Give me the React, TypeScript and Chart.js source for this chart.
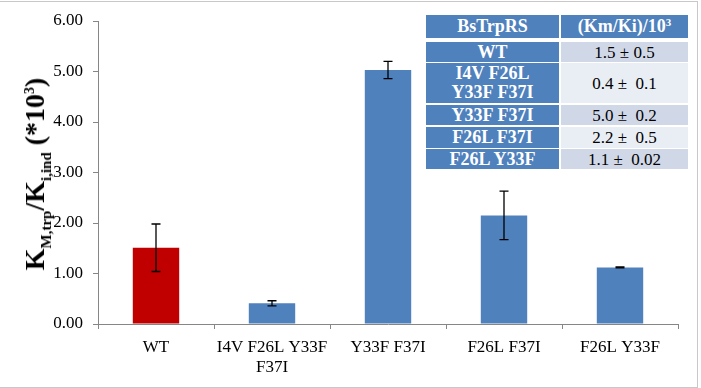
import React, { useEffect, useRef } from "react";
import { Chart, registerables } from "chart.js";

Chart.register(...registerables);

const categories: string[][] = [["WT"], ["I4V F26L Y33F", "F37I"], ["Y33F F37I"], ["F26L F37I"], ["F26L Y33F"]];
const values: number[] = [1.51, 0.41, 5.03, 2.15, 1.12];
const errors: number[] = [0.47, 0.05, 0.17, 0.48, 0.01];
const barColors: string[] = ["#C00000", "#4F81BD", "#4F81BD", "#4F81BD", "#4F81BD"];
const yTickValues: number[] = [0, 1, 2, 3, 4, 5, 6];

const tableHeaderLeft = "BsTrpRS";
const tableHeaderRight = "(Km/Ki)/10";
const tableHeaderSup = "3";
const tableVariants: string[][] = [["WT"], ["I4V F26L", "Y33F F37I"], ["Y33F F37I"], ["F26L F37I"], ["F26L Y33F"]];
const tableValues: string[] = ["1.5 ± 0.5", "0.4 ±  0.1", "5.0 ±  0.2", "2.2 ±  0.5", "1.1 ±  0.02"];

const SERIF = "Liberation Serif, Tinos, DejaVu Serif, serif";

const errorBarPlugin = {
  id: "errorBars",
  afterDatasetsDraw(chart: any) {
    const ctx = chart.ctx;
    const meta = chart.getDatasetMeta(0);
    const y = chart.scales.y;
    ctx.save();
    ctx.strokeStyle = "#000000";
    ctx.lineWidth = 1.3;
    meta.data.forEach((bar: any, i: number) => {
      const x = bar.x;
      const top = y.getPixelForValue(values[i] + errors[i]);
      const bot = y.getPixelForValue(values[i] - errors[i]);
      ctx.beginPath();
      ctx.moveTo(x, top);
      ctx.lineTo(x, bot);
      ctx.moveTo(x - 4.5, top);
      ctx.lineTo(x + 4.5, top);
      ctx.moveTo(x - 4.5, bot);
      ctx.lineTo(x + 4.5, bot);
      ctx.stroke();
    });
    ctx.restore();
  },
};

function DataTable() {
  const rowHeights = [20, 40, 20, 21, 20];
  const rowGaps = [4, 1, 2, 2, 1];
  const rightColors = ["#D0D8E8", "#E9EDF4", "#D0D8E8", "#E9EDF4", "#D0D8E8"];
  const blue = "#4F81BD";
  const cellBase: React.CSSProperties = {
    display: "flex",
    alignItems: "center",
    justifyContent: "center",
    textAlign: "center",
    fontFamily: SERIF,
    fontSize: 17,
    lineHeight: "19px",
    boxSizing: "border-box",
  };
  const boldCell: React.CSSProperties = { ...cellBase, background: blue, color: "#fff", fontWeight: "bold", fontSize: 18 };
  return (
    <div style={{ position: "absolute", left: 426, top: 15, width: 262, background: "#fff" }}>
      <div style={{ display: "flex", height: 23 }}>
        <div style={{ ...boldCell, width: 133 }}>{tableHeaderLeft}</div>
        <div style={{ width: 2 }} />
        <div style={{ ...boldCell, width: 127 }}>
          <span>
            {tableHeaderRight}
            <sup style={{ fontSize: 11, verticalAlign: "6px", lineHeight: 0 }}>{tableHeaderSup}</sup>
          </span>
        </div>
      </div>
      {tableVariants.map((v, i) => (
        <div key={i} style={{ display: "flex", height: rowHeights[i], marginTop: rowGaps[i] }}>
          <div style={{ ...boldCell, width: 133, flexDirection: "column" }}>
            {v.map((line, j) => (
              <div key={j}>{line}</div>
            ))}
          </div>
          <div style={{ width: 2 }} />
          <div style={{ ...cellBase, width: 127, background: rightColors[i], color: "#000", whiteSpace: "pre" }}>{tableValues[i]}</div>
        </div>
      ))}
    </div>
  );
}

function YLabel() {
  const subStyle: React.CSSProperties = { fontSize: 15, verticalAlign: "-7px", lineHeight: 0 };
  return (
    <div
      style={{
        position: "absolute",
        left: 35,
        top: 174,
        transform: "translate(-50%, -50%) rotate(-90deg)",
        whiteSpace: "nowrap",
        fontFamily: SERIF,
        fontWeight: "bold",
        fontSize: 28,
        color: "#000",
        lineHeight: "30px",
      }}
    >
      K<span style={subStyle}>M,trp</span>/K<span style={subStyle}>i,ind</span> (*10
      <span style={{ fontSize: 14, verticalAlign: "10px", lineHeight: 0 }}>3</span>)
    </div>
  );
}

export default function App() {
  const canvasRef = useRef<HTMLCanvasElement | null>(null);

  useEffect(() => {
    document.body.style.margin = "0";
    const canvas = canvasRef.current;
    if (!canvas) return;
    const chart = new Chart(canvas, {
      type: "bar",
      data: {
        labels: categories,
        datasets: [
          {
            data: values,
            backgroundColor: barColors,
            borderWidth: 0,
            barPercentage: 0.4,
            categoryPercentage: 1.0,
          },
        ],
      },
      options: {
        responsive: false,
        animation: false,
        layout: { padding: { top: 21, right: 23, bottom: 0, left: 0 } },
        plugins: { legend: { display: false }, tooltip: { enabled: false } },
        scales: {
          x: {
            grid: { drawOnChartArea: false, drawTicks: true, tickLength: 5, color: "#868686", offset: true },
            border: { color: "#868686", width: 1 },
            ticks: {
              color: "#000",
              font: { family: SERIF, size: 17, lineHeight: 1.2 },
              padding: 8,
              maxRotation: 0,
              autoSkip: false,
            },
            afterFit: (s: any) => {
              s.height = 64;
            },
          },
          y: {
            min: 0,
            max: 6,
            afterBuildTicks: (s: any) => {
              s.ticks = yTickValues.map((v) => ({ value: v }));
            },
            grid: { drawOnChartArea: false, drawTicks: true, tickLength: 5, color: "#868686" },
            border: { color: "#868686", width: 1 },
            ticks: {
              color: "#000",
              font: { family: SERIF, size: 17 },
              padding: 10,
              callback: (v: any) => Number(v).toFixed(2),
            },
            afterFit: (s: any) => {
              s.width = 98;
            },
          },
        },
      },
      plugins: [errorBarPlugin],
    });
    return () => chart.destroy();
  }, []);

  return (
    <div style={{ position: "fixed", left: 0, top: 0, width: 701, height: 388, background: "#fff", overflow: "hidden" }}>
      <canvas ref={canvasRef} width={701} height={388} style={{ position: "absolute", left: 0, top: 0 }} />
      <YLabel />
      <DataTable />
      <div
        style={{
          position: "absolute",
          left: 0,
          top: 1,
          width: 698,
          height: 387,
          boxSizing: "border-box",
          borderTop: "1px solid #C8C8C8",
          borderRight: "1px solid #C8C8C8",
          borderBottom: "1px solid #C8C8C8",
          pointerEvents: "none",
        }}
      />
    </div>
  );
}
